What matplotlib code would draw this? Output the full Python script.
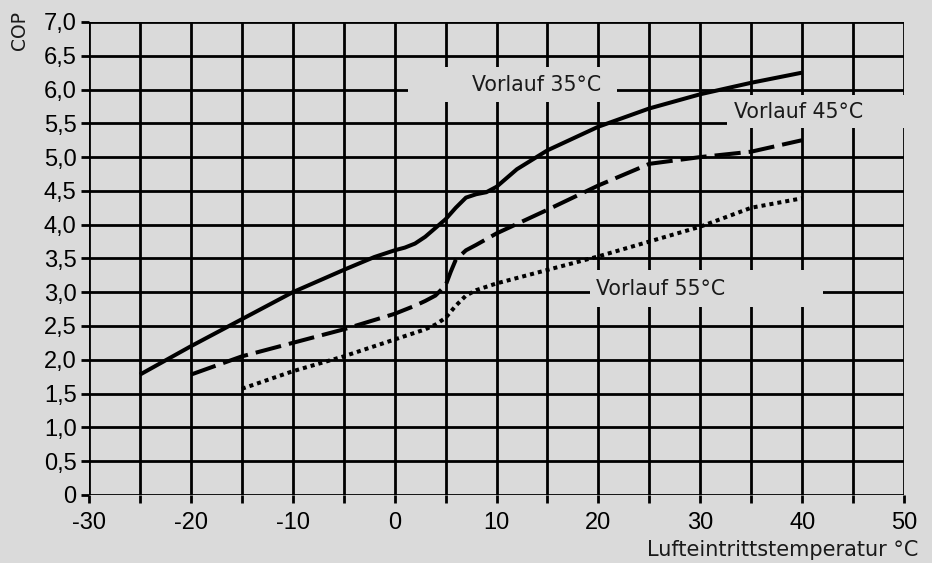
import matplotlib
matplotlib.use("Agg")
import matplotlib.pyplot as plt
from matplotlib.patches import Rectangle
from matplotlib.ticker import MultipleLocator, FixedLocator

# Data
x35 = [-25, -20, -15, -10, -5, -2, 0, 1, 2, 3, 4, 5, 6, 7, 8, 9, 10, 12, 15, 20, 25, 30, 35, 40]
y35 = [1.78, 2.2, 2.6, 3.0, 3.33, 3.52, 3.62, 3.66, 3.72, 3.82, 3.95, 4.08, 4.25, 4.4, 4.45, 4.48, 4.56, 4.82, 5.1, 5.45, 5.72, 5.93, 6.1, 6.25]

x45 = [-20, -15, -10, -5, 0, 2, 3, 4, 5, 5.5, 6, 7, 8, 10, 15, 20, 25, 30, 35, 40]
y45 = [1.78, 2.05, 2.25, 2.45, 2.68, 2.8, 2.87, 2.95, 3.1, 3.3, 3.48, 3.62, 3.7, 3.87, 4.22, 4.58, 4.9, 5.0, 5.08, 5.25]

x55 = [-15, -10, -5, 0, 3, 4, 5, 6, 7, 8, 10, 15, 20, 25, 30, 35, 40]
y55 = [1.57, 1.83, 2.05, 2.3, 2.45, 2.52, 2.62, 2.8, 2.95, 3.03, 3.13, 3.33, 3.53, 3.75, 3.97, 4.25, 4.39]

xticks_major = [-30, -20, -10, 0, 10, 20, 30, 40, 50]
yticks = [0, 0.5, 1.0, 1.5, 2.0, 2.5, 3.0, 3.5, 4.0, 4.5, 5.0, 5.5, 6.0, 6.5, 7.0]
ytick_labels = ["0", "0,5", "1,0", "1,5", "2,0", "2,5", "3,0", "3,5", "4,0", "4,5", "5,0", "5,5", "6,0", "6,5", "7,0"]
series_labels = ["Vorlauf 35°C", "Vorlauf 45°C", "Vorlauf 55°C"]

BG = "#dadada"
fig = plt.figure(figsize=(9.32, 5.63), dpi=100, facecolor=BG)
ax = fig.add_axes([0.0955, 0.121, 0.8745, 0.84])
ax.set_facecolor(BG)
ax.set_xlim(-30, 50)
ax.set_ylim(0, 7)
for s in ax.spines.values():
    s.set_visible(False)

ax.xaxis.set_major_locator(FixedLocator(xticks_major))
ax.xaxis.set_minor_locator(MultipleLocator(5))
ax.set_xticklabels([str(v) for v in xticks_major], fontsize=17, family="Liberation Sans")
ax.set_yticks(yticks)
ax.set_yticklabels(ytick_labels, fontsize=17, family="Liberation Sans")
ax.tick_params(axis="x", which="both", direction="out", length=6, width=2, color="black", pad=6)
ax.tick_params(axis="y", which="both", direction="out", length=6, width=2, color="black", pad=3)

ax.grid(True, which="both", color="black", linewidth=2, zorder=1)
ax.set_axisbelow(True)

# label boxes masking the grid
ax.add_patch(Rectangle((1.3, 5.81), 20.5, 0.52, facecolor=BG, edgecolor="none", zorder=2))
ax.add_patch(Rectangle((32.6, 5.43), 18.5, 0.49, facecolor=BG, edgecolor="none", zorder=2, clip_on=False))
ax.add_patch(Rectangle((19.2, 2.78), 22.8, 0.55, facecolor=BG, edgecolor="none", zorder=2))

ax.plot(x35, y35, color="black", linewidth=2.9, solid_capstyle="butt", solid_joinstyle="round", zorder=3)
ax.plot(x45, y45, color="black", linewidth=2.9, dashes=(6.5, 2), dash_capstyle="butt", zorder=3)
ax.plot(x55, y55, color="black", linewidth=2.9, dashes=(1.0, 1.0), dash_capstyle="butt", zorder=3)

tfont = dict(fontsize=14.8, family="DejaVu Sans", color="#1a1a1a", zorder=4)
ax.text(7.6, 6.07, series_labels[0], ha="left", va="center", **tfont)
ax.text(33.3, 5.67, series_labels[1], ha="left", va="center", **tfont)
ax.text(19.8, 3.05, series_labels[2], ha="left", va="center", **tfont)

fig.text(0.985, 0.006, "Lufteintrittstemperatur °C", ha="right", va="bottom", fontsize=15, family="DejaVu Sans", color="#1a1a1a")
fig.text(0.0205, 0.98, "COP", ha="center", va="top", rotation=90, fontsize=13.5, family="DejaVu Sans", color="#1a1a1a")

fig.savefig("out.png", dpi=100, facecolor=BG)
